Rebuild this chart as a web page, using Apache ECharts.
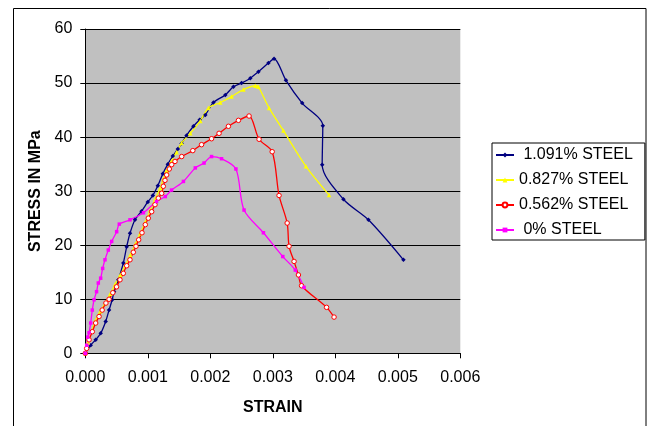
<!DOCTYPE html>
<html>
<head>
<meta charset="utf-8">
<script src="https://cdn.jsdelivr.net/npm/echarts@6/dist/echarts.min.js"></script>
<style>
html,body{margin:0;padding:0;background:#fff;}
#chart{width:650px;height:426px;}
</style>
</head>
<body>
<div id="chart"></div>
<script>
var seriesNames = [' 1.091% STEEL', '0.827% STEEL', '0.562% STEEL', ' 0% STEEL'];
var xTicks = ['0.000','0.001','0.002','0.003','0.004','0.005','0.006'];
var yTicks = [0,10,20,30,40,50,60];

var steel1091 = [[0,0],[0.000086,1.5],[0.000166,2.5],[0.000246,3.7],[0.000326,5.9],[0.00038,8.0],[0.00043,9.9],[0.00046,11.4],[0.000528,13.6],[0.000608,16.7],[0.000662,19.7],[0.000715,22.2],[0.000795,24.7],[0.0009,26.3],[0.001,28.0],[0.00108,29.2],[0.00116,31.0],[0.00124,33.2],[0.00132,35.0],[0.0014,36.5],[0.00148,37.8],[0.00154,38.8],[0.00162,40.3],[0.00173,42.0],[0.00183,43.2],[0.00192,44.1],[0.00205,46.4],[0.00224,47.8],[0.00237,49.3],[0.0025,50.0],[0.00264,50.9],[0.00277,52.1],[0.00293,53.7],[0.00302,54.5],[0.00321,50.5],[0.00347,46.3],[0.0038,42.1],[0.00379,34.9],[0.00413,28.5],[0.00453,24.7],[0.00509,17.3]];
var steel0827 = [[0,0],[0.00004,2.0],[0.0001,4.0],[0.00016,6.0],[0.00024,7.8],[0.00032,9.3],[0.0004,11.0],[0.00048,12.8],[0.00056,14.5],[0.00064,16.3],[0.00072,18.2],[0.0008,20.2],[0.00088,22.2],[0.00096,24.3],[0.00104,26.5],[0.00112,28.6],[0.0012,30.6],[0.00125,32.3],[0.0013,33.8],[0.00138,35.6],[0.00146,37.2],[0.00154,38.9],[0.00168,40.7],[0.00184,43.0],[0.00197,45.4],[0.00216,46.4],[0.00234,47.5],[0.00253,48.8],[0.00272,49.5],[0.00277,49.3],[0.00294,45.4],[0.00317,41.2],[0.00353,34.6],[0.0039,29.3]];
var steel0562 = [[0,0],[0.000022,0.9],[0.00006,2.5],[0.000112,4.0],[0.000166,5.6],[0.00022,6.8],[0.00027,8.0],[0.00033,9.3],[0.00038,10.0],[0.00044,11.2],[0.0005,12.3],[0.000555,13.6],[0.000608,14.8],[0.000662,16.2],[0.000715,17.3],[0.000768,18.7],[0.000811,19.8],[0.000854,21.0],[0.000907,22.3],[0.00096,23.8],[0.001008,25.0],[0.001062,26.2],[0.001115,27.5],[0.001168,28.7],[0.001222,29.6],[0.001248,30.9],[0.001275,32.0],[0.001302,33.0],[0.001344,34.1],[0.001382,34.9],[0.001435,35.5],[0.001542,36.4],[0.00172,37.5],[0.00186,38.6],[0.00202,39.7],[0.00214,40.7],[0.00229,42.0],[0.00245,43.1],[0.00262,43.9],[0.00278,39.6],[0.00299,37.3],[0.0031,29.2],[0.00323,24.1],[0.00326,19.8],[0.00334,17.0],[0.00341,14.5],[0.00346,12.5],[0.00386,8.5],[0.00398,6.7]];
var steel0 = [[0,0],[0.000022,1.5],[0.00004,3.0],[0.00006,3.8],[0.000086,5.6],[0.000112,8.0],[0.00014,9.9],[0.00018,11.4],[0.000208,13.0],[0.000246,13.9],[0.000278,15.7],[0.000315,17.3],[0.000368,19.1],[0.000422,20.7],[0.000502,22.5],[0.000544,23.9],[0.000715,24.7],[0.00093,26.0],[0.00114,28.1],[0.00128,29.0],[0.00138,30.2],[0.00157,31.8],[0.00176,34.3],[0.0019,35.2],[0.00202,36.4],[0.00218,36.0],[0.00241,34.1],[0.00254,26.5],[0.00285,22.3],[0.00316,17.9],[0.00336,15.4],[0.0035,12.2]];

var chart = echarts.init(document.getElementById('chart'), null, {renderer:'canvas'});
var font = 'Arial, "Liberation Sans", sans-serif';
function mk(name, data, color, symbol, size, fill){
  return {
    name: name, type: 'line', data: data, smooth: 0.3,
    symbol: symbol, symbolSize: size, showSymbol: true,
    lineStyle: {color: color, width: 1.3},
    itemStyle: {color: fill || color, borderColor: color, borderWidth: fill ? 1 : 0},
    emphasis: {disabled: true}
  };
}
chart.setOption({
  animation: false,
  backgroundColor: '#fff',
  textStyle: {fontFamily: font},
  graphic: [{
    type: 'rect', shape: {x: 13.5, y: 8.5, width: 632.5, height: 430},
    style: {fill: 'none', stroke: '#000', lineWidth: 1}, z: 100
  }],
  grid: {left: 85.3, right: 189.7, top: 29, bottom: 72.7, show: true, backgroundColor: '#C0C0C0', borderWidth: 0},
  legend: {
    orient: 'vertical', left: 492, top: 143,
    data: seriesNames,
    itemWidth: 18, itemHeight: 6, itemGap: 9,
    padding: [4, 12, 2, 3],
    backgroundColor: '#fff', borderColor: '#000', borderWidth: 1,
    textStyle: {fontSize: 16, color: '#000', fontFamily: font}
  },
  xAxis: {
    type: 'value', min: 0, max: 0.006, interval: 0.001,
    name: 'STRAIN', nameLocation: 'middle', nameGap: 46,
    nameTextStyle: {fontSize: 16, fontWeight: 'bold', color: '#000', fontFamily: font},
    axisLine: {show: true, lineStyle: {color: '#000', width: 1}},
    axisTick: {show: true, length: 5, inside: false, lineStyle: {color: '#000'}},
    axisLabel: {fontSize: 16, color: '#000', margin: 16, formatter: function(v){ return xTicks[Math.round(v/0.001)]; }},
    splitLine: {show: false}
  },
  yAxis: {
    type: 'value', min: 0, max: 60, interval: 10,
    name: 'STRESS IN MPa', nameLocation: 'middle', nameGap: 38,
    nameTextStyle: {fontSize: 16, fontWeight: 'bold', color: '#000', fontFamily: font},
    axisLine: {show: true, lineStyle: {color: '#000', width: 1}},
    axisTick: {show: true, length: 5, inside: false, lineStyle: {color: '#000'}},
    axisLabel: {fontSize: 16, color: '#000', margin: 13, formatter: function(v){ return String(yTicks[Math.round(v/10)]); }},
    splitLine: {show: true, lineStyle: {color: '#000', width: 1}}
  },
  series: [
    mk(seriesNames[0], steel1091, '#000080', 'diamond', 4.5),
    mk(seriesNames[1], steel0827, '#FFFF00', 'triangle', 4.5),
    mk(seriesNames[2], steel0562, '#FF0000', 'circle', 4.5, '#FFFFFF'),
    mk(seriesNames[3], steel0, '#FF00FF', 'rect', 3.5)
  ]
});
</script>
</body>
</html>
